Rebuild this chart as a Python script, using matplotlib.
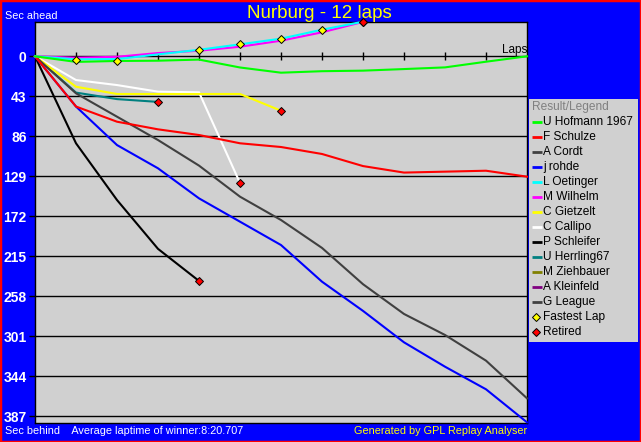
import matplotlib
matplotlib.use("Agg")
import matplotlib.pyplot as plt
from matplotlib.patches import Rectangle

plt.rcParams['font.family'] = ['Liberation Sans', 'DejaVu Sans']

# ---------------- data ----------------
laps_all = list(range(0, 13))
drivers = ["U Hofmann 1967", "F Schulze", "A Cordt", "j rohde", "L Oetinger",
           "M Wilhelm", "C Gietzelt", "C Callipo", "P Schleifer", "U Herrling67",
           "M Ziehbauer", "A Kleinfeld", "G League"]
colors = ["#00FF00", "#FF0000", "#404040", "#0000FF", "#00FFFF",
          "#FF00FF", "#FFFF00", "#FFFFFF", "#000000", "#008080",
          "#808000", "#800080", "#404040"]

# seconds behind the winner's average pace (negative = ahead)
hofmann = [0, 6, 5, 4.7, 3.5, 12, 17.6, 16, 15.4, 13.7, 11.9, 5.8, 0]
schulze = [0, 54, 70.3, 78.5, 84.6, 93.5, 97.5, 105, 118, 125, 124, 123, 129.4]
cordt = [0, 39.8, 64.9, 90, 117.5, 150.9, 176, 206, 245, 277, 299.6, 327.2, 367.7]
rohde = [0, 54, 95.4, 120.4, 152.7, 177.8, 202.9, 242.3, 273.7, 307.5, 333.7, 358, 393.5]
oetinger = [0, 3.2, 3, -2.1, -7, -12.9, -19, -28.6, -37.2]
wilhelm = [0, 1.5, 0.5, -3.5, -6, -10.3, -16.8, -25.8, -37]
gietzelt = [0, 32.7, 40.5, 40.5, 40.5, 40.5, 58.5]
callipo = [0, 25.5, 30.9, 38, 38.7, 136.2]
schleifer = [0, 93.5, 154.5, 207, 241.5]
herrling = [0, 39, 46, 49]
ziehbauer = []
kleinfeld = []
league = []

series = [hofmann, schulze, cordt, rohde, oetinger, wilhelm, gietzelt,
          callipo, schleifer, herrling, ziehbauer, kleinfeld, league]
finished = [True, True, True, True, False, False, False, False, False, False,
            True, True, True]

fastest_laps = [1, 2, 4, 5, 6, 7]
fastest_vals = [4, 4.7, -6.8, -13.2, -19, -28.6]

yticks = [0, 43, 86, 129, 172, 215, 258, 301, 344, 387]
title = "Nurburg - 12 laps"
avg_text = "Sec behind    Average laptime of winner:8:20.707"

# ---------------- figure ----------------
W, H = 641, 442
fig = plt.figure(figsize=(W / 100, H / 100), dpi=100, facecolor="#0000FF")

def fx(px):
    return px / W

def fy(py):
    return 1 - py / H

ax = fig.add_axes([fx(35), fy(422.5), fx(527) - fx(35), fy(22) - fy(422.5)])
ax.set_facecolor("#D0D0D0")
ax.set_xlim(0, 12)
ax.set_ylim(393.7, -36.9)

for v in yticks[1:]:
    ax.axhline(v, color="black", lw=1, zorder=1)
ax.axhline(0, color="black", lw=1, zorder=1)
ax.plot(laps_all[1:12], [0] * 11, ls="none", marker="|", ms=6, mew=1,
        color="black", zorder=1)

ax.set_xticks([])
ax.set_yticks(yticks)
ax.set_yticklabels([str(t) for t in yticks], color="white",
                   fontweight="bold", fontsize=10)
ax.tick_params(axis="y", length=4, width=1, color="black", pad=2)
for s in ax.spines.values():
    s.set_color("black")
    s.set_linewidth(1)

order = [12, 11, 10, 9, 8, 7, 6, 3, 2, 1, 5, 4, 0]
for i in order:
    vals = series[i]
    if not vals:
        continue
    ax.plot(laps_all[:len(vals)], vals, color=colors[i], lw=1.5,
            solid_joinstyle="miter", zorder=3, clip_on=False)

ax.plot(fastest_laps, fastest_vals, ls="none", marker="D", ms=4.5,
        mfc="#FFFF00", mec="black", mew=0.7, zorder=5)

ret_x = [len(series[i]) - 1 for i in range(len(series))
         if series[i] and not finished[i]]
ret_y = [series[i][-1] for i in range(len(series))
         if series[i] and not finished[i]]
ax.plot(ret_x, ret_y, ls="none", marker="D", ms=4.5, mfc="#FF0000",
        mec="black", mew=0.7, zorder=5, clip_on=False)

ax.text(1.0, 0, "Laps", transform=ax.get_yaxis_transform(), ha="right",
        va="bottom", fontsize=8.5, color="black")
ax.text(12, 0, "", fontsize=1)

# ---------------- texts ----------------
fig.text(fx(319), fy(13), title, color="#FFFF00", fontsize=13.5,
         ha="center", va="center")
fig.text(fx(5), fy(16), "Sec ahead", color="white", fontsize=7.8,
         ha="left", va="center")
fig.text(fx(5), fy(431), avg_text, color="white", fontsize=7.8,
         ha="left", va="center")
fig.text(fx(527.5), fy(431), "Generated by GPL Replay Analyser",
         color="#FFFF00", fontsize=7.8, ha="right", va="center")

# ---------------- legend ----------------
lx0, ly0, lx1, ly1 = 529, 99.3, 638, 341.7
lax = fig.add_axes([fx(lx0), fy(ly1), fx(lx1) - fx(lx0), fy(ly0) - fy(ly1)])
lax.set_facecolor("#D0D0D0")
lax.set_xlim(0, lx1 - lx0)
lax.set_ylim(ly1 - ly0, 0)
lax.set_xticks([])
lax.set_yticks([])
for s in lax.spines.values():
    s.set_visible(False)

lax.text(3, 8, "Result/Legend", color="#808080", fontsize=8.6,
         ha="left", va="center")
for k, name in enumerate(drivers):
    yy = 23 + 15 * k
    lax.plot([3.3, 13.3], [yy, yy], color=colors[k], lw=2,
             solid_capstyle="butt")
    lax.text(14, yy, name, color="black", fontsize=8.6, ha="left",
             va="center")
for k, (name, c) in enumerate([("Fastest Lap", "#FFFF00"),
                               ("Retired", "#FF0000")]):
    yy = 23 + 15 * (len(drivers) + k)
    lax.plot([7], [yy], ls="none", marker="D", ms=4.5, mfc=c, mec="black",
             mew=0.7)
    lax.text(14, yy, name, color="black", fontsize=8.6, ha="left",
             va="center")

# red outer frame
fig.add_artist(Rectangle((0, 0), 1, 1, transform=fig.transFigure,
                         fill=False, edgecolor="#FF0000", lw=2.5))

fig.savefig("out.png", dpi=100, facecolor=fig.get_facecolor())
